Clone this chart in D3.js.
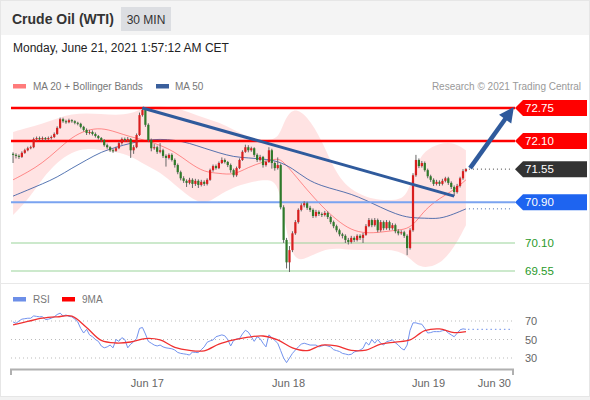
<!DOCTYPE html>
<html><head><meta charset="utf-8">
<script src="https://cdn.jsdelivr.net/npm/d3@7"></script>
<style>body{margin:0;background:#fff;} svg{display:block;font-family:"Liberation Sans",Arial,sans-serif;}</style>
</head><body><svg id="c" width="590" height="400"></svg>
<script>
// ---- data (30-min candles, index 0 = first candle) ----
const opens=[71.85,71.83,71.81,71.79,71.87,71.92,71.96,71.98,72.14,72.16,
72.14,72.16,72.14,72.16,72.18,72.24,72.36,72.53,72.49,72.47,
72.51,72.49,72.46,72.44,72.38,72.32,72.26,72.28,72.24,72.20,
72.16,72.12,72.02,71.98,71.92,71.91,71.96,72.06,72.14,72.12,
72.14,71.92,71.98,72.22,72.61,72.71,72.42,72.12,71.96,71.98,
71.89,71.92,71.81,71.77,71.83,71.73,71.63,71.49,71.37,71.32,
71.28,71.34,71.26,71.32,71.24,71.30,71.26,71.34,71.53,71.61,
71.57,71.67,71.73,71.69,71.63,71.53,71.43,71.57,71.73,71.89,
71.98,71.92,71.96,71.83,71.73,71.79,71.63,71.69,71.92,71.67,
71.57,71.63,70.80,70.16,69.72,69.96,70.29,70.51,70.75,70.84,
70.88,70.79,70.75,70.63,70.71,70.67,70.65,70.69,70.61,70.51,
70.43,70.35,70.27,70.24,70.16,70.12,70.20,70.16,70.24,70.20,
70.26,70.43,70.55,70.45,70.55,70.35,70.51,70.39,70.51,70.39,
70.45,70.33,70.29,70.31,70.24,70.00,70.35,71.43,71.73,71.61,
71.67,71.53,71.41,71.34,71.26,71.30,71.26,71.32,71.37,71.28,
71.20,71.10,71.22,71.37,71.51];
const highs=[71.88,71.86,71.84,71.90,71.95,71.99,72.01,72.17,72.19,72.19,
72.19,72.18,72.19,72.21,72.27,72.39,72.56,72.56,72.52,72.54,
72.53,72.51,72.48,72.46,72.40,72.35,72.32,72.31,72.27,72.22,
72.18,72.14,72.05,72.00,71.95,71.99,72.09,72.17,72.17,72.18,
72.16,72.02,72.25,72.66,72.76,72.74,72.45,72.15,72.04,72.01,
72.06,71.95,71.84,71.86,71.86,71.76,71.66,71.52,71.41,71.35,
71.38,71.37,71.36,71.35,71.34,71.33,71.37,71.56,71.64,71.64,
71.70,71.78,71.76,71.71,71.66,71.56,71.60,71.76,71.92,72.03,
72.02,71.99,71.98,71.86,71.83,71.81,71.72,71.98,71.95,71.70,
71.78,71.66,70.84,70.20,70.04,70.33,70.55,70.78,70.88,70.92,
70.91,70.83,70.78,70.75,70.74,70.70,70.73,70.72,70.64,70.54,
70.46,70.38,70.30,70.27,70.20,70.24,70.23,70.27,70.27,70.30,
70.47,70.59,70.58,70.59,70.58,70.55,70.54,70.55,70.54,70.49,
70.48,70.37,70.35,70.34,70.27,70.39,71.47,71.83,71.76,71.71,
71.70,71.56,71.44,71.37,71.34,71.33,71.36,71.40,71.40,71.31,
71.23,71.26,71.40,71.55,71.57];
const lows=[71.67,71.76,71.75,71.77,71.85,71.90,71.94,71.96,72.11,72.12,
72.12,72.11,72.12,72.13,72.16,72.22,72.34,72.46,72.44,72.45,
72.46,72.43,72.41,72.35,72.29,72.22,72.23,72.21,72.17,72.13,
72.08,71.99,71.95,71.89,71.87,71.89,71.94,72.03,72.09,72.09,
71.77,71.85,71.96,72.20,72.58,72.38,72.08,71.90,71.93,71.85,
71.86,71.77,71.60,71.74,71.70,71.58,71.45,71.33,71.28,71.20,
71.25,71.18,71.22,71.18,71.21,71.22,71.23,71.32,71.50,71.54,
71.55,71.65,71.66,71.59,71.48,71.39,71.40,71.55,71.71,71.87,
71.88,71.89,71.79,71.69,71.70,71.58,71.60,71.67,71.56,71.52,
71.54,70.76,70.10,69.60,69.53,69.92,70.26,70.48,70.72,70.80,
70.75,70.71,70.59,70.60,70.63,70.61,70.62,70.57,70.47,70.39,
70.31,70.23,70.19,70.10,70.07,70.09,70.12,70.13,70.16,70.10,
70.24,70.41,70.41,70.42,70.31,70.32,70.35,70.36,70.35,70.36,
70.29,70.25,70.26,70.20,69.86,69.97,70.32,71.40,71.57,71.58,
71.50,71.37,71.30,71.22,71.23,71.22,71.23,71.29,71.24,71.16,
71.02,71.07,71.19,71.34,71.49];
const closes=[71.83,71.81,71.79,71.87,71.92,71.96,71.98,72.14,72.16,72.14,
72.16,72.14,72.16,72.18,72.24,72.36,72.53,72.49,72.47,72.51,
72.49,72.46,72.44,72.38,72.32,72.26,72.28,72.24,72.20,72.16,
72.12,72.02,71.98,71.92,71.91,71.96,72.06,72.14,72.12,72.14,
71.92,71.98,72.22,72.61,72.71,72.42,72.12,71.96,71.98,71.89,
71.92,71.81,71.77,71.83,71.73,71.63,71.49,71.37,71.32,71.28,
71.34,71.26,71.32,71.24,71.30,71.26,71.34,71.53,71.61,71.57,
71.67,71.73,71.69,71.63,71.53,71.43,71.57,71.73,71.89,71.98,
71.92,71.96,71.83,71.73,71.79,71.63,71.69,71.92,71.67,71.57,
71.63,70.80,70.16,69.72,69.96,70.29,70.51,70.75,70.84,70.88,
70.79,70.75,70.63,70.71,70.67,70.65,70.69,70.61,70.51,70.43,
70.35,70.27,70.24,70.16,70.12,70.20,70.16,70.24,70.20,70.26,
70.43,70.55,70.45,70.55,70.35,70.51,70.39,70.51,70.39,70.45,
70.33,70.29,70.31,70.24,70.00,70.35,71.43,71.73,71.61,71.67,
71.53,71.41,71.34,71.26,71.30,71.26,71.32,71.37,71.28,71.20,
71.10,71.22,71.37,71.51,71.55];

// Bollinger bands / MA20 (read at these candle indices)
const bandIdx=[0,5,10,15,20,25,30,35,40,45,50,55,60,65,70,75,80,85,90,92,95,100,105,110,115,120,125,130,134,137,140,145,150,154];
const bbUpper=[72.28,72.36,72.44,72.55,72.63,72.65,72.63,72.61,72.63,72.77,72.79,72.75,72.67,72.55,72.47,72.32,72.18,72.12,72.12,72.47,72.77,72.61,72.12,71.43,71.14,71.00,70.94,70.94,71.00,71.63,71.92,72.06,72.08,71.92];
const bbLower=[70.65,70.94,71.37,71.69,71.89,71.96,71.92,71.89,71.81,71.63,71.49,71.24,71.00,70.84,71.04,71.20,71.28,71.34,71.34,70.65,69.72,69.80,69.96,70.00,69.96,69.96,69.96,69.96,69.86,69.67,69.61,69.67,70.00,70.45];
const ma20=[71.34,71.49,71.67,71.92,72.18,72.32,72.36,72.28,72.18,72.12,72.02,71.89,71.67,71.49,71.47,71.43,71.59,71.69,71.77,71.69,71.49,71.14,70.82,70.55,70.35,70.29,70.31,70.35,70.37,70.51,70.75,70.98,71.14,71.34];
const ma50Idx=[0,5,10,15,20,25,30,35,40,45,50,55,60,65,70,75,80,85,90,95,100,105,110,115,120,125,130,135,140,145,150,154];
const ma50=[71.02,71.14,71.26,71.39,71.57,71.73,71.89,71.98,72.06,72.12,72.14,72.12,72.06,71.96,71.87,71.79,71.77,71.75,71.71,71.57,71.34,71.22,71.14,71.06,70.94,70.80,70.67,70.59,70.59,70.57,70.67,70.77];

// RSI (per candle) and its 9-period MA
const rsi=[69,67.5,70,72,72.5,73,73,75.5,75,74.5,
74.7,71.5,72,73,74.5,77,78.5,75.5,76.5,75,
74.5,72,69,62,57,61,55,53,50,48,
43,41,42,44,41,50,48,52,50,41,
45,47.5,51,62,63,56,48,46,44,43,
44,42,41,40.5,40,38.6,36,35,34.5,34,
33.2,36.5,36,35.8,39,42,47,48.5,49.5,53,
54,55,54,50,43,49,50.5,51,56,60,
58,53,48,53,51,46,42,55,52,49,
46,38,30,25,30,35,38.6,42,45,46,
45,44,44,44,42,43,44,43,42,39,
38,37,35,34.3,33.5,34,36.5,37.5,38.6,40.5,
47,44,50,46,50,46,44,47.7,48.5,49.5,
46.5,44,40.5,38.6,44,60,68,68,67,66.5,
62,57,57.5,58.5,58.5,58.5,59.5,60,57,55,
53,56.7,60.5,61.5,61];
const rsiMaIdx=[0,5,10,15,20,25,30,35,40,45,50,55,60,65,70,75,80,85,90,95,100,105,110,115,120,125,130,135,140,145,150,154];
const rsiMa=[65.7,69.5,73,74.5,75.2,63,49,46.2,47.3,51,49.5,41.5,38.2,37.8,45,49.5,52.5,53.8,49.5,41,38,44,43,38.2,38.5,45,47.2,49.5,59.5,61.5,57.5,58.5];

// levels and drawings
const resistances=[72.75,72.10];
const lastPrice=71.55;
const pivot=70.90;
const supports=[70.10,69.55];
const trendPts=[[44,72.75],[150,71.02]];
const arrowPts=[[155.4,71.57],[170.3,72.77]];

// axes
const xTickIdx=[45.5,93.5,141.1,163.5];
const xTickLabels=["Jun 17","Jun 18","Jun 19","Jun 30"];
const rsiTicks=[70,50,30];

// ---- drawing ----
const svg=d3.select('#c');
const W=590,H=400;
const x=d3.scaleLinear().domain([-0.7,170]).range([11,513]);
const y=d3.scaleLinear().domain([72.75,69.55]).range([108,271]);
const yr=d3.scaleLinear().domain([70,30]).range([321,358]);

svg.append('rect').attr('width',W).attr('height',H).attr('fill','#fff');
svg.append('rect').attr('x',0).attr('y',0).attr('width',W).attr('height',35).attr('fill','#f4f4f4');
svg.append('rect').attr('x',0).attr('y',397).attr('width',W).attr('height',3).attr('fill','#f2f2f2');
svg.append('rect').attr('x',0.5).attr('y',0.5).attr('width',W-1).attr('height',396).attr('fill','none').attr('stroke','#e6e6e6');
svg.append('line').attr('x1',0).attr('x2',W).attr('y1',283.5).attr('y2',283.5).attr('stroke','#e8e8e8');

// header
svg.append('text').attr('x',12).attr('y',24).attr('font-size',14).attr('font-weight','bold').attr('fill','#333').text('Crude Oil (WTI)');
svg.append('rect').attr('x',121).attr('y',7).attr('width',50).attr('height',24).attr('fill','#dcdee2');
svg.append('text').attr('x',146).attr('y',23.5).attr('text-anchor','middle').attr('font-size',12).attr('fill','#333').text('30 MIN');
svg.append('text').attr('x',13).attr('y',52).attr('font-size',12).attr('fill','#222').text('Monday, June 21, 2021 1:57:12 AM CET');

// legend
svg.append('rect').attr('x',13).attr('y',84).attr('width',13).attr('height',4.5).attr('fill','#ff7b7b');
svg.append('text').attr('x',33).attr('y',90).attr('font-size',10).attr('fill','#777').text('MA 20 + Bollinger Bands');
svg.append('rect').attr('x',156).attr('y',84).attr('width',13).attr('height',4.5).attr('fill','#3a5f9c');
svg.append('text').attr('x',175).attr('y',90).attr('font-size',10).attr('fill','#777').text('MA 50');
svg.append('text').attr('x',581).attr('y',90).attr('text-anchor','end').attr('font-size',10).attr('fill','#999').text('Research \u00a9 2021 Trading Central');

// bands
const band=bandIdx.map((i,k)=>({i,hi:bbUpper[k],lo:bbLower[k],m:ma20[k]}));
svg.append('path').datum(band).attr('fill','rgba(255,0,0,0.11)')
  .attr('d',d3.area().x(d=>x(d.i)).y0(d=>y(d.lo)).y1(d=>y(d.hi)).curve(d3.curveBasis));
svg.append('path').datum(band).attr('fill','none').attr('stroke','rgba(255,60,60,0.55)').attr('stroke-width',1)
  .attr('d',d3.line().x(d=>x(d.i)).y(d=>y(d.m)).curve(d3.curveBasis));
const m50=ma50Idx.map((i,k)=>({i,v:ma50[k]}));
svg.append('path').datum(m50).attr('fill','none').attr('stroke','rgba(45,85,160,0.8)').attr('stroke-width',1)
  .attr('d',d3.line().x(d=>x(d.i)).y(d=>y(d.v)).curve(d3.curveBasis));

// level lines
const lx1=11,lx2=515;
resistances.forEach(p=>{
  svg.append('line').attr('x1',lx1).attr('x2',lx2).attr('y1',y(p)).attr('y2',y(p)).attr('stroke','rgba(255,0,0,0.25)').attr('stroke-width',4);
  svg.append('line').attr('x1',lx1).attr('x2',lx2).attr('y1',y(p)).attr('y2',y(p)).attr('stroke','#ff0000').attr('stroke-width',2);
});
svg.append('line').attr('x1',lx1).attr('x2',lx2).attr('y1',y(pivot)).attr('y2',y(pivot)).attr('stroke','#7aa3f0').attr('stroke-width',2);
supports.forEach(p=>{
  svg.append('line').attr('x1',lx1).attr('x2',lx2).attr('y1',y(p)).attr('y2',y(p)).attr('stroke','#9ad39a').attr('stroke-width',1.2);
});
// dotted extensions
const lastI=closes.length-1;
svg.append('line').attr('x1',x(lastI)+3).attr('x2',513).attr('y1',y(lastPrice)).attr('y2',y(lastPrice)).attr('stroke','#444').attr('stroke-dasharray','1,3');
svg.append('line').attr('x1',x(lastI)+3).attr('x2',513).attr('y1',y(ma50[ma50.length-1])).attr('y2',y(ma50[ma50.length-1])).attr('stroke','#4a6fb0').attr('stroke-dasharray','1,3');

// candles
const candles=closes.map((c,i)=>({i,o:opens[i],h:highs[i],l:lows[i],c}));
const cg=svg.append('g');
cg.selectAll('line.wick').data(candles).join('line').attr('class','wick')
  .attr('x1',d=>x(d.i)).attr('x2',d=>x(d.i)).attr('y1',d=>y(d.h)).attr('y2',d=>y(d.l))
  .attr('stroke','#666').attr('stroke-width',1);
cg.selectAll('rect.body').data(candles).join('rect').attr('class','body')
  .attr('x',d=>x(d.i)-1.1).attr('width',2.2)
  .attr('y',d=>y(Math.max(d.o,d.c))).attr('height',d=>Math.max(1,Math.abs(y(d.o)-y(d.c))))
  .attr('fill',d=>d.c>=d.o?'#d81f1f':'#2f7a2a');

// trendline
svg.append('path').datum(trendPts).attr('fill','none').attr('stroke','#2f5a9c').attr('stroke-width',3)
  .attr('d',d3.line().x(d=>x(d[0])).y(d=>y(d[1])));
// arrow
{
  const x0=x(arrowPts[0][0]),y0=y(arrowPts[0][1]),x1=x(arrowPts[1][0]),y1=y(arrowPts[1][1]);
  const dx=x1-x0,dy=y1-y0,L=Math.hypot(dx,dy),ux=dx/L,uy=dy/L;
  const hl=15,hw=7.5;
  const bx=x1-ux*hl,by=y1-uy*hl;
  svg.append('line').attr('x1',x0).attr('y1',y0).attr('x2',bx+ux*2).attr('y2',by+uy*2).attr('stroke','#2f5a9c').attr('stroke-width',4.5);
  svg.append('polygon').attr('fill','#2f5a9c')
    .attr('points',[[x1,y1],[bx-uy*hw,by+ux*hw],[bx+uy*hw,by-ux*hw]].map(p=>p.join(',')).join(' '));
}

// tags
function tag(p,color,txt){
  const yy=y(p);
  svg.append('polygon').attr('fill',color)
    .attr('points',[[515,yy],[523,yy-8],[587,yy-8],[587,yy+8],[523,yy+8]].map(q=>q.join(',')).join(' '));
  svg.append('text').attr('x',525).attr('y',yy+4).attr('font-size',11.5).attr('fill','#fff').text(txt);
}
resistances.forEach(p=>tag(p,'#ff0000',p.toFixed(2)));
tag(lastPrice,'#333333',lastPrice.toFixed(2));
tag(pivot,'#1e64f0',pivot.toFixed(2));
supports.forEach(p=>{
  svg.append('text').attr('x',525).attr('y',y(p)+4).attr('font-size',11.5).attr('fill','#2a9a2a').text(p.toFixed(2));
});

// RSI panel
svg.append('rect').attr('x',13).attr('y',297).attr('width',13).attr('height',4.5).attr('fill','#6d8fe8');
svg.append('text').attr('x',33).attr('y',303).attr('font-size',10).attr('fill','#777').text('RSI');
svg.append('rect').attr('x',62).attr('y',297).attr('width',13).attr('height',4.5).attr('fill','#ff0000');
svg.append('text').attr('x',82).attr('y',303).attr('font-size',10).attr('fill','#777').text('9MA');
rsiTicks.forEach(t=>{
  svg.append('line').attr('x1',11).attr('x2',512).attr('y1',yr(t)).attr('y2',yr(t)).attr('stroke','#bbb').attr('stroke-dasharray','1,3');
  svg.append('text').attr('x',525).attr('y',yr(t)+4).attr('font-size',11).attr('fill','#666').text(t);
});
svg.append('line').attr('x1',x(lastI)+2).attr('x2',513).attr('y1',yr(rsi[lastI])).attr('y2',yr(rsi[lastI])).attr('stroke','#6d8fe8').attr('stroke-dasharray','1.5,3');
svg.append('path').datum(rsi).attr('fill','none').attr('stroke','#7393ee').attr('stroke-width',1)
  .attr('d',d3.line().x((d,i)=>x(i)).y(d=>yr(d)));
const rma=rsiMaIdx.map((i,k)=>({i,v:rsiMa[k]}));
svg.append('path').datum(rma).attr('fill','none').attr('stroke','#f03030').attr('stroke-width',1.3)
  .attr('d',d3.line().x(d=>x(d.i)).y(d=>yr(d.v)).curve(d3.curveCatmullRom));

// x axis
const ax=svg.append('g').attr('transform','translate(0,369)')
  .call(d3.axisBottom(x).tickValues(xTickIdx).tickFormat((d,i)=>xTickLabels[i]).tickSize(0).tickPadding(10));
ax.select('.domain').remove();
ax.selectAll('text').attr('font-size',11).attr('fill','#666').attr('font-family','"Liberation Sans",Arial,sans-serif');
svg.append('path').attr('d','M11,375V369.5H513V375').attr('fill','none').attr('stroke','#b0b0b0').attr('stroke-width',2);
</script>
</body></html>
